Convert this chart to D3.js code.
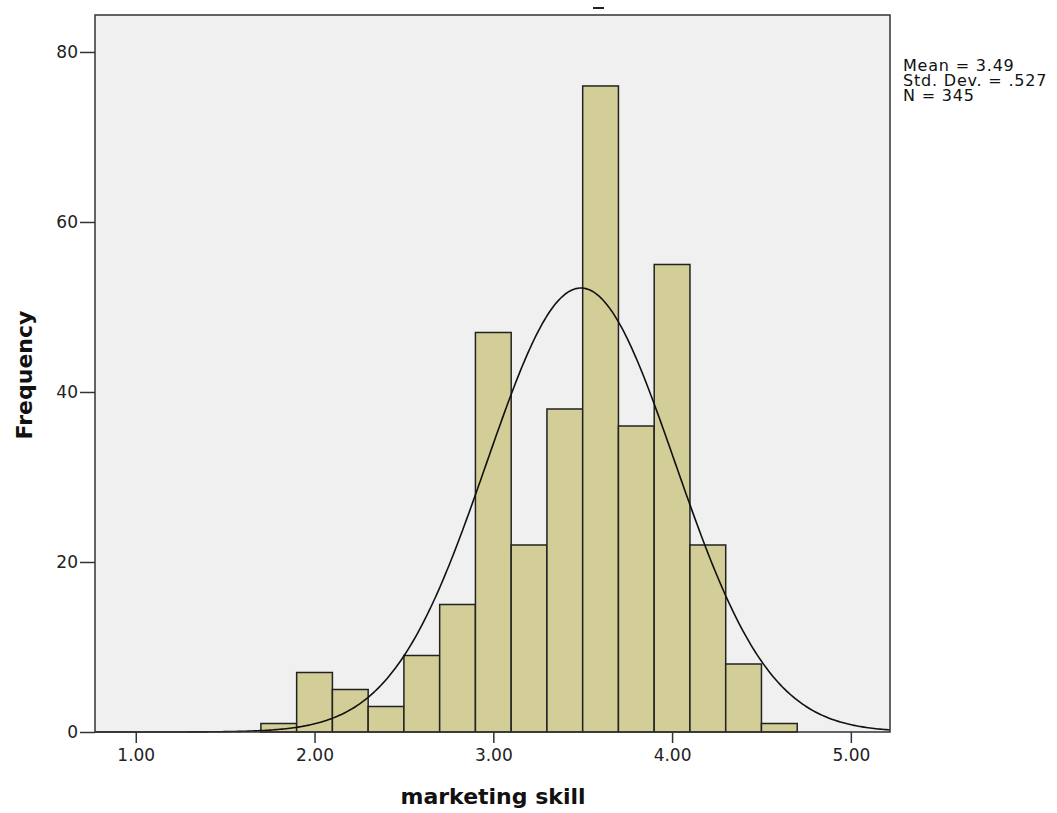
<!DOCTYPE html>
<html>
<head>
<meta charset="utf-8">
<title>marketing skill</title>
<script src="https://d3js.org/d3.v7.min.js"></script>
<style>
  body { margin: 0; background: #fff; }
  text { font-family: "DejaVu Sans", sans-serif; }
</style>
</head>
<body>
<script>
// histogram bins (lower edge) and counts
var binStarts = [1.7, 1.9, 2.1, 2.3, 2.5, 2.7, 2.9, 3.1, 3.3, 3.5, 3.7, 3.9, 4.1, 4.3, 4.5];
var counts = [1, 7, 5, 3, 9, 15, 47, 22, 38, 76, 36, 55, 22, 8, 1];
var binWidth = 0.2;
var xTicks = [1, 2, 3, 4, 5];
var yTicks = [0, 20, 40, 60, 80];
var mean = 3.49, sd = 0.527, n = 345;
var statsLines = ["Mean = 3.49", "Std. Dev. = .527", "N = 345"];

var width_SVG = 1057, height_SVG = 813;
var plotLeft = 95, plotRight = 890, plotTop = 15, plotBottom = 732;

var svg = d3.select("body").append("svg")
    .attr("width", width_SVG)
    .attr("height", height_SVG);

var x = d3.scaleLinear().domain([0.772, 5.219]).range([plotLeft, plotRight]);
var y = d3.scaleLinear().domain([0, 84.35]).range([plotBottom, plotTop]);

// plot background
svg.append("rect")
    .attr("x", plotLeft).attr("y", plotTop)
    .attr("width", plotRight - plotLeft).attr("height", plotBottom - plotTop)
    .style("fill", "#f0f0f0");

// bars
svg.selectAll("rect.bar")
    .data(d3.zip(binStarts, counts))
    .enter()
  .append("rect")
    .attr("class", "bar")
    .attr("x", function(d) { return x(d[0]); })
    .attr("y", function(d) { return y(d[1]); })
    .attr("width", function(d) { return x(d[0] + binWidth) - x(d[0]); })
    .attr("height", function(d) { return y(0) - y(d[1]); })
    .style("fill", "#d3ce97")
    .style("stroke", "#222")
    .style("stroke-width", 1.5);

// normal curve
var curvePts = d3.range(0, 401).map(function(i) {
    var v = x.domain()[0] + (x.domain()[1] - x.domain()[0]) * i / 400;
    var f = n * binWidth / (sd * Math.sqrt(2 * Math.PI)) * Math.exp(-0.5 * Math.pow((v - mean) / sd, 2));
    return [v, f];
});
svg.append("path")
    .datum(curvePts)
    .attr("d", d3.line().x(function(d) { return x(d[0]); }).y(function(d) { return y(d[1]); }))
    .style("fill", "none")
    .style("stroke", "#111")
    .style("stroke-width", 1.6);

// frame
svg.append("rect")
    .attr("x", plotLeft).attr("y", plotTop)
    .attr("width", plotRight - plotLeft).attr("height", plotBottom - plotTop)
    .style("fill", "none")
    .style("stroke", "#333")
    .style("stroke-width", 1.5);

// axes
var yAxis = svg.append("g")
    .attr("transform", "translate(" + plotLeft + ",0)")
    .call(d3.axisLeft(y).tickValues(yTicks).tickSize(15).tickPadding(2).tickFormat(d3.format("d")));
var xAxis = svg.append("g")
    .attr("transform", "translate(0," + plotBottom + ")")
    .call(d3.axisBottom(x).tickValues(xTicks).tickSize(11).tickPadding(8).tickFormat(d3.format(".2f")));
[xAxis, yAxis].forEach(function(g) {
    g.select(".domain").remove();
    g.selectAll("line").style("stroke", "#333").style("stroke-width", 1.5);
    g.selectAll("text")
        .style("font-family", "'DejaVu Sans', sans-serif")
        .style("font-size", "17px")
        .style("fill", "#222");
});
xAxis.selectAll("text").attr("y", 29).attr("dy", 0);

// axis titles
svg.append("text")
    .attr("x", 493).attr("y", 804)
    .attr("text-anchor", "middle")
    .style("font-size", "22px").style("font-weight", "bold").style("fill", "#111")
    .text("marketing skill");
svg.append("text")
    .attr("transform", "translate(32,375) rotate(-90)")
    .attr("text-anchor", "middle")
    .style("font-size", "22px").style("font-weight", "bold").style("fill", "#111")
    .text("Frequency");

// stats box
svg.selectAll("text.stat")
    .data(statsLines)
    .enter()
  .append("text")
    .attr("class", "stat")
    .attr("x", 903)
    .attr("y", function(d, i) { return 71 + i * 15; })
    .style("font-size", "16px").style("letter-spacing", "0.8px").style("fill", "#111")
    .text(function(d) { return d; });

// clipped title remnant
svg.append("line")
    .attr("x1", 593).attr("x2", 604).attr("y1", 8).attr("y2", 8)
    .style("stroke", "#222").style("stroke-width", 2);
</script>
</body>
</html>
